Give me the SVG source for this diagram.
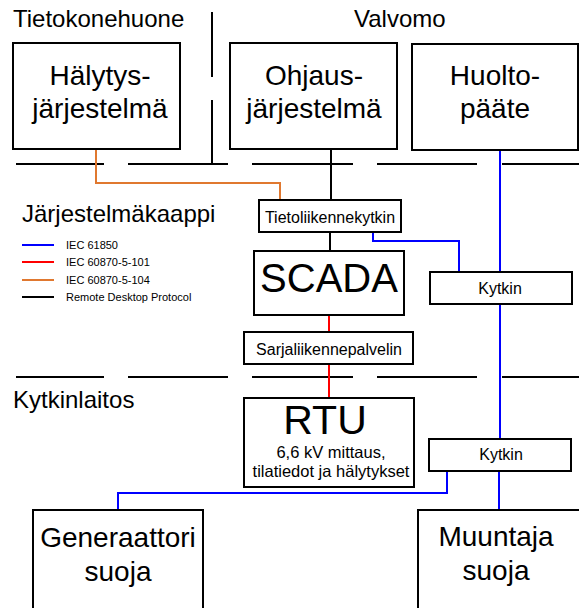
<svg xmlns="http://www.w3.org/2000/svg" width="579" height="608" viewBox="0 0 579 608">
<style>
text{font-family:"Liberation Sans",Arial,sans-serif;fill:#000}
.box{fill:#fff;stroke:#000;stroke-width:2}
.wall{stroke:#000;stroke-width:2;fill:none}
.c{fill:none;stroke-width:2}
.blk{stroke:#000}.blu{stroke:#0000ff}.red{stroke:#ff0000}.org{stroke:#e0782f}
.h{font-size:24px}
.big{font-size:28px;text-anchor:middle}
.sm{font-size:16px;text-anchor:middle}
.lg{font-size:11px}
</style>
<rect width="579" height="608" fill="#fff"/>
<g id="walls">
<path class="wall" d="M212 12V77M212 100V164M16 164H104M128 164H228M252 164H353M377 164H477M502 164H579"/>
<path class="wall" d="M16 377H104M128 377H228M252 377H353M377 377H477M502 377H579"/>
</g>
<g id="labels">
<text class="h" x="13" y="27">Tietokonehuone</text>
<text class="h" x="354" y="27">Valvomo</text>
<text class="h" x="22" y="222">Järjestelmäkaappi</text>
<text class="h" x="13" y="408">Kytkinlaitos</text>
</g>
<g id="legend">
<path class="c blu" d="M22 245H54"/>
<path class="c red" d="M22 262H54"/>
<path class="c org" d="M22 280H54"/>
<path class="c blk" d="M22 297H54"/>
<text class="lg" x="66" y="249">IEC 61850</text>
<text class="lg" x="66" y="266">IEC 60870-5-101</text>
<text class="lg" x="66" y="284">IEC 60870-5-104</text>
<text class="lg" x="66" y="301">Remote Desktop Protocol</text>
</g>
<g id="connectors">
<path class="c org" d="M96 149V183H280V200"/>
<path class="c blk" d="M331 149V200M330 232V251"/>
<path class="c blu" d="M373 232V241H459V272"/>
<path class="c blu" d="M500 150V272M500 304V439"/>
<path class="c red" d="M329 315V332M329 364V398"/>
<path class="c blu" d="M447 471V493H118V510"/>
<path class="c blu" d="M499 471V510"/>
</g>
<g id="halytys">
<rect class="box" x="13" y="43" width="167" height="106"/>
<text class="big" x="100" y="85">Hälytys-</text>
<text class="big" x="100" y="118">järjestelmä</text>
</g>
<g id="ohjaus">
<rect class="box" x="230" y="43" width="167" height="106"/>
<text class="big" x="314" y="85">Ohjaus-</text>
<text class="big" x="314" y="118">järjestelmä</text>
</g>
<g id="huolto">
<rect class="box" x="412" y="44" width="166" height="106"/>
<text class="big" x="495" y="85">Huolto-</text>
<text class="big" x="495" y="118">pääte</text>
</g>
<g id="tietoliikennekytkin">
<rect class="box" x="259" y="200" width="142" height="32"/>
<text class="sm" x="330" y="223">Tietoliikennekytkin</text>
</g>
<g id="scada">
<rect class="box" x="254" y="251" width="150" height="64"/>
<text x="329" y="292" font-size="40" text-anchor="middle">SCADA</text>
</g>
<g id="kytkin1">
<rect class="box" x="430" y="272" width="142" height="32"/>
<text class="sm" x="500" y="294">Kytkin</text>
</g>
<g id="sarjaliikennepalvelin">
<rect class="box" x="244" y="332" width="169" height="32"/>
<text class="sm" x="329" y="355">Sarjaliikennepalvelin</text>
</g>
<g id="rtu">
<rect class="box" x="244" y="398" width="170" height="89"/>
<text x="325" y="434" font-size="41" text-anchor="middle">RTU</text>
<text x="331" y="458" font-size="16.5" text-anchor="middle">6,6 kV mittaus,</text>
<text x="331" y="477" font-size="16.5" text-anchor="middle">tilatiedot ja hälytykset</text>
</g>
<g id="kytkin2">
<rect class="box" x="429" y="439" width="142" height="32"/>
<text class="sm" x="501" y="460">Kytkin</text>
</g>
<g id="generaattori">
<rect class="box" x="33" y="510" width="170" height="110"/>
<text class="big" x="118" y="547">Generaattori</text>
<text class="big" x="118" y="581">suoja</text>
</g>
<g id="muuntaja">
<rect class="box" x="418" y="510" width="170" height="110"/>
<text class="big" x="496" y="546">Muuntaja</text>
<text class="big" x="496" y="580">suoja</text>
</g>
</svg>
